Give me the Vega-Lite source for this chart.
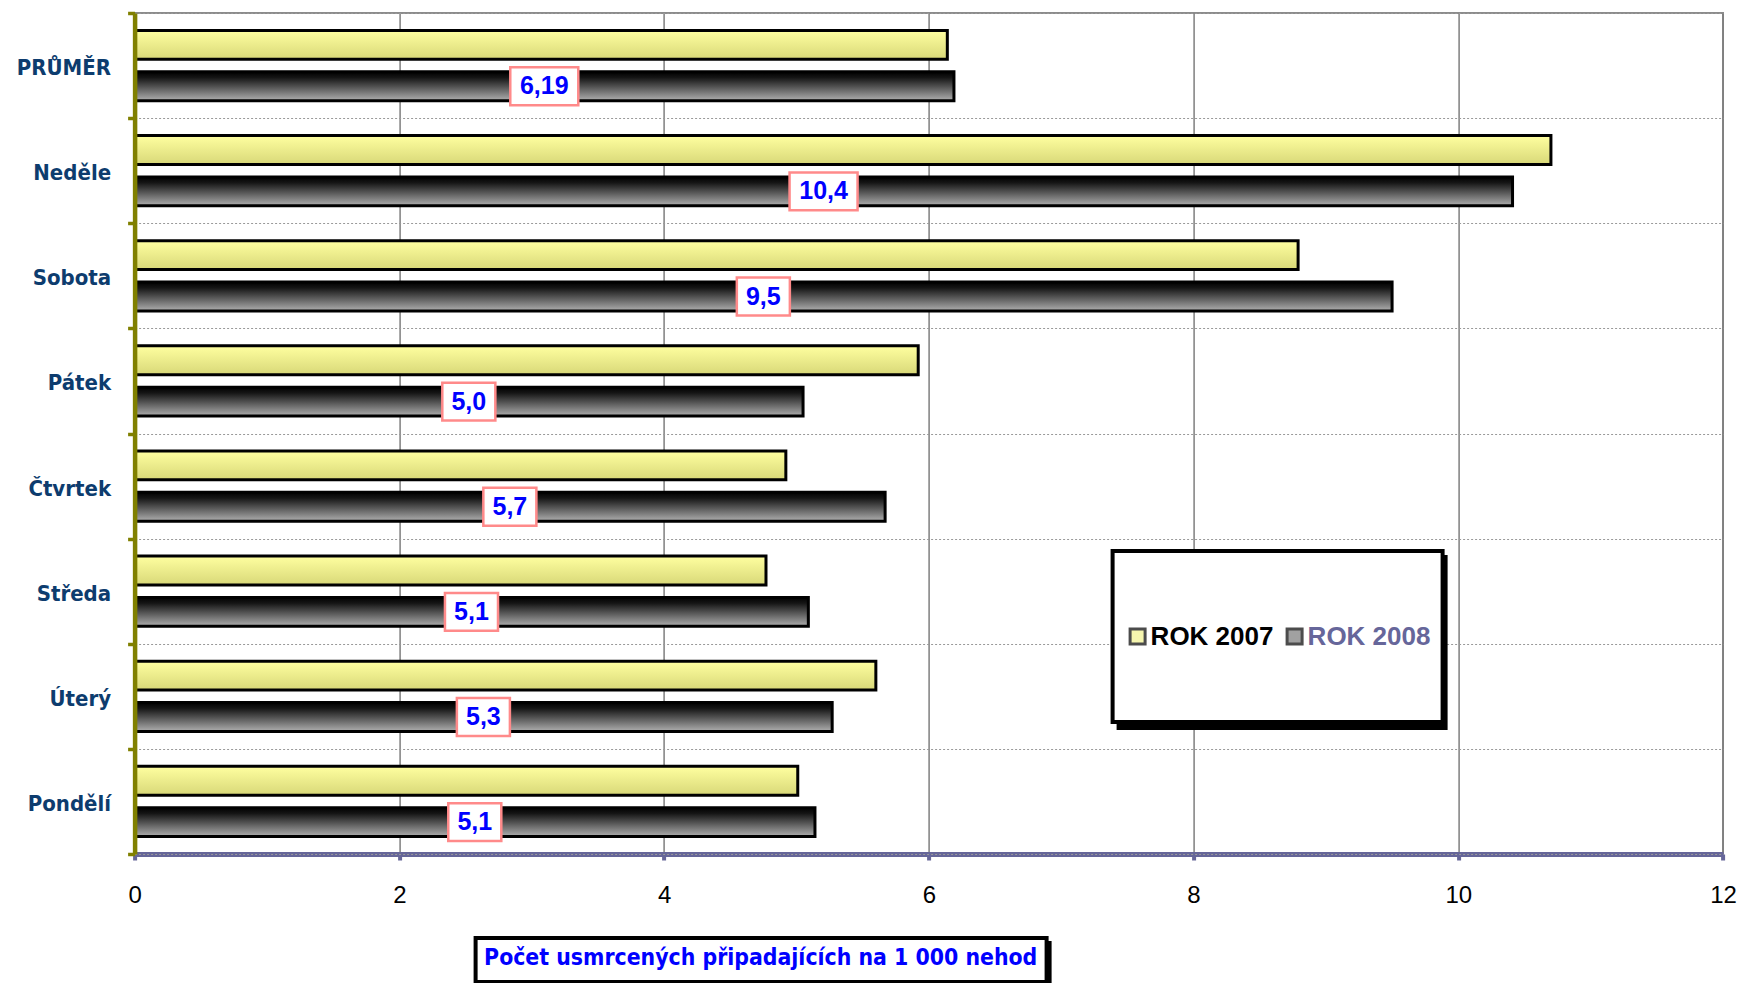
{
  "$schema": "https://vega.github.io/schema/vega-lite/v6.json",
  "width": 1588.4,
  "height": 841,
  "autosize": {"type": "none"},
  "padding": {"left": 134.6, "top": 13, "right": 21, "bottom": 129},
  "background": "white",
  "config": {
    "view": {"stroke": "#8c8c8c", "strokeWidth": 2},
    "legend": {"strokeWidth": 4}
  },
  "data": {
    "values": [
      {"day": "PRŮMĚR", "year": "2007", "v": 6.14},
      {"day": "PRŮMĚR", "year": "2008", "v": 6.19, "label": "6,19"},
      {"day": "Neděle", "year": "2007", "v": 10.70},
      {"day": "Neděle", "year": "2008", "v": 10.41, "label": "10,4"},
      {"day": "Sobota", "year": "2007", "v": 8.79},
      {"day": "Sobota", "year": "2008", "v": 9.50, "label": "9,5"},
      {"day": "Pátek", "year": "2007", "v": 5.92},
      {"day": "Pátek", "year": "2008", "v": 5.05, "label": "5,0"},
      {"day": "Čtvrtek", "year": "2007", "v": 4.92},
      {"day": "Čtvrtek", "year": "2008", "v": 5.67, "label": "5,7"},
      {"day": "Středa", "year": "2007", "v": 4.77},
      {"day": "Středa", "year": "2008", "v": 5.09, "label": "5,1"},
      {"day": "Úterý", "year": "2007", "v": 5.60},
      {"day": "Úterý", "year": "2008", "v": 5.27, "label": "5,3"},
      {"day": "Pondělí", "year": "2007", "v": 5.01},
      {"day": "Pondělí", "year": "2008", "v": 5.14, "label": "5,1"}
    ]
  },
  "resolve": {"scale": {"x": "independent"}},
  "layer": [
    {
      "mark": {"type": "bar", "stroke": "black", "strokeWidth": 3},
      "encoding": {
        "y": {
          "field": "day", "type": "nominal", "sort": null,
          "scale": {"paddingInner": 0, "paddingOuter": 0},
          "axis": {
            "title": null, "zindex": 1,
            "domainColor": "#808000", "domainWidth": 4.5,
            "tickColor": "#808000", "tickWidth": 3.5, "tickSize": 7, "tickBand": "extent",
            "grid": true, "gridColor": "#999999", "gridDash": [2, 2], "gridWidth": 1,
            "labelFont": "DejaVu Sans Condensed, sans-serif",
            "labelFontSize": 22, "labelFontWeight": "bold", "labelColor": "#0d3c6e", "labelPadding": 17,
            "labelOffset": 2
          }
        },
        "yOffset": {
          "field": "year", "type": "nominal",
          "scale": {"domain": ["2007", "2008"], "paddingInner": 0.3, "paddingOuter": 0.42}
        },
        "x": {
          "field": "v", "type": "quantitative",
          "scale": {"domain": [0, 12], "nice": false},
          "axis": {
            "title": null, "values": [0, 2, 4, 6, 8, 10, 12], "zindex": 0,
            "domainColor": "#666699", "domainWidth": 5,
            "tickColor": "#666699", "tickWidth": 4, "tickSize": 6,
            "grid": true, "gridColor": "#7f7f7f", "gridWidth": 1.5,
            "labelFont": "Liberation Sans, Arial, sans-serif", "labelFontSize": 24,
            "labelColor": "black", "labelPadding": 23, "labelFlush": false, "labelOverlap": false
          }
        },
        "fill": {
          "condition": {
            "test": "datum.year == '2008'",
            "value": {"gradient": "linear", "x1": 0, "y1": 0, "x2": 0, "y2": 1,
              "stops": [{"offset": 0, "color": "#000000"}, {"offset": 0.2, "color": "#151515"}, {"offset": 1, "color": "#b0b0b0"}]}
          },
          "value": {"gradient": "linear", "x1": 0, "y1": 0, "x2": 0, "y2": 1,
            "stops": [{"offset": 0, "color": "#ffffa0"}, {"offset": 1, "color": "#d8d878"}]}
        }
      }
    },
    {
      "transform": [{"filter": "datum.year == '2008'"}],
      "mark": {"type": "point", "filled": true, "fill": "white", "stroke": "#ff8a8a", "strokeWidth": 2.5, "opacity": 1, "size": 4624},
      "encoding": {
        "y": {"field": "day", "type": "nominal", "sort": null},
        "yOffset": {"field": "year", "type": "nominal"},
        "x": {"field": "v", "type": "quantitative", "scale": {"domain": [0, 24], "nice": false}, "axis": null},
        "shape": {
          "condition": {"test": "length(datum.label) > 3", "value": "M-1,-0.556L1,-0.556L1,0.556L-1,0.556Z"},
          "value": "M-0.78,-0.556L0.78,-0.556L0.78,0.556L-0.78,0.556Z"
        }
      }
    },
    {
      "transform": [{"filter": "datum.year == '2008'"}],
      "mark": {"type": "text", "font": "Liberation Sans, Arial, sans-serif", "fontWeight": "bold", "fontSize": 25, "color": "#0000ff", "align": "center", "baseline": "middle"},
      "encoding": {
        "y": {"field": "day", "type": "nominal", "sort": null},
        "yOffset": {"field": "year", "type": "nominal"},
        "x": {"field": "v", "type": "quantitative", "scale": {"domain": [0, 24], "nice": false}, "axis": null},
        "text": {"field": "label"}
      }
    },
    {
      "mark": {"type": "point", "filled": true},
      "encoding": {
        "y": {"field": "day", "type": "nominal", "sort": null},
        "x": {"field": "v", "type": "quantitative", "scale": {"domain": [0, 12], "nice": false}, "axis": null},
        "color": {
          "field": "year", "type": "nominal",
          "scale": {"range": ["#f3f38e", "#7a7a7a"]},
          "legend": {
            "title": null, "orient": "none", "legendX": 978, "legendY": 538, "direction": "horizontal", "zindex": 2,
            "fillColor": "white", "strokeColor": "black", "clipHeight": 146.5,
            "symbolType": "square", "symbolSize": 225, "symbolStrokeWidth": 3, "symbolStrokeColor": "black",
            "labelFont": "Liberation Sans, Arial, sans-serif", "labelFontSize": 26, "labelFontWeight": "bold",
            "labelColor": {"expr": "datum.value == '2008' ? '#66669a' : 'black'"},
            "labelOffset": 0, "columnPadding": 8, "padding": 12, "labelLimit": 300,
            "labelExpr": "'ROK ' + datum.label"
          }
        },
        "shape": {
          "field": "year", "type": "nominal",
          "scale": {"domain": ["2007", "2008"], "range": ["M-1,-0.1L1,-0.1L1,0.1L-1,0.1Z", "M-1,-0.1L1,-0.1L1,0.1L-1,0.1Z"]},
          "legend": {
            "title": null, "orient": "none", "legendX": 984, "legendY": 544, "direction": "horizontal", "zindex": 1,
            "values": ["2007"],
            "fillColor": "black", "strokeColor": "black", "clipHeight": 146.5,
            "symbolSize": 91809, "symbolStrokeWidth": 0, "symbolOpacity": 0,
            "labelExpr": "''", "labelFontSize": 1, "labelOffset": 0, "columnPadding": 0, "padding": 12
          }
        },
        "size": {
          "field": "day", "type": "ordinal", "sort": null,
          "scale": {"range": [304704, 304704]},
          "legend": {
            "title": null,
            "orient": "none", "legendX": 346, "legendY": 930, "direction": "horizontal", "zindex": 1,
            "values": ["PRŮMĚR"],
            "fillColor": "black", "strokeColor": "black", "clipHeight": 27,
            "symbolType": "M-1,-0.04L1,-0.04L1,0.04L-1,0.04Z", "symbolStrokeWidth": 0, "symbolOpacity": 0,
            "labelExpr": "''", "labelFontSize": 1, "columnPadding": 0, "labelOffset": 0, "padding": 8.5
          }
        },
        "opacity": {
          "field": "day", "type": "ordinal", "sort": null,
          "scale": {"domain": ["Pondělí", "Úterý", "Středa", "Čtvrtek", "Pátek", "Sobota", "Neděle", "PRŮMĚR"], "range": [0, 0]},
          "legend": {
            "title": "Počet usmrcených připadajících na 1 000 nehod",
            "orient": "none", "legendX": 341, "legendY": 925, "direction": "horizontal", "zindex": 2,
            "fillColor": "white", "strokeColor": "black",
            "titleFont": "DejaVu Sans Condensed, sans-serif",
            "titleFontSize": 22.8, "titleFontWeight": "bold", "titleColor": "#0000ff",
            "titleLimit": 1000, "titlePadding": 0,
            "labelExpr": "''", "labelFontSize": 4, "symbolSize": 0, "symbolStrokeWidth": 0, "symbolOpacity": 0,
            "columnPadding": 0, "labelOffset": 0, "padding": 8.5
          }
        }
      }
    }
  ]
}
